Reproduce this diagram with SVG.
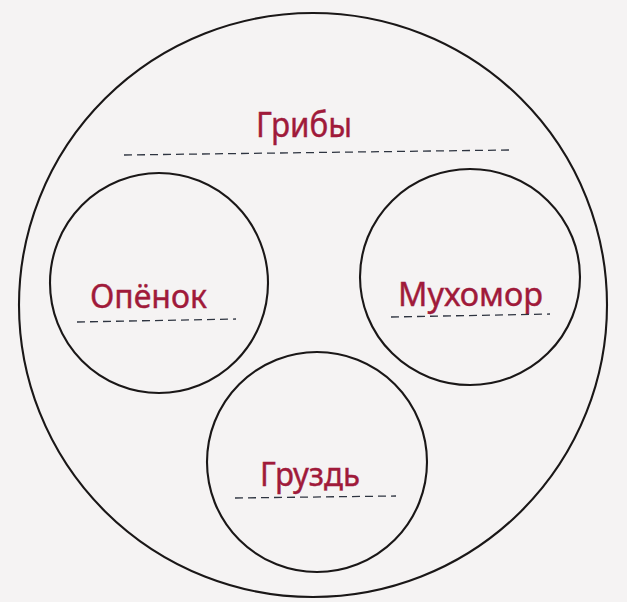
<svg xmlns="http://www.w3.org/2000/svg" width="627" height="602" viewBox="0 0 627 602">
  <style>
    .ring { fill: none; stroke: #1a1717; stroke-width: 2.1; }
    .lbl { font-family: "Noto Sans", "Open Sans", "DejaVu Sans", sans-serif; fill: #a01a3a; stroke: #a01a3a; stroke-width: 0.4; }
    .dash { fill: none; stroke: #2e3440; stroke-width: 1.3; stroke-dasharray: 8 5; }
  </style>
  <rect x="0" y="0" width="627" height="602" fill="#f5f3f3"/>
  <g id="node-griby">
    <ellipse class="ring" cx="313" cy="305" rx="294" ry="292"/>
    <text class="lbl" x="256" y="137" font-size="34" textLength="96" lengthAdjust="spacingAndGlyphs">Грибы</text>
    <line class="dash" x1="124" y1="155" x2="510" y2="150"/>
  </g>
  <g id="node-openok">
    <ellipse class="ring" cx="159" cy="283" rx="109" ry="110"/>
    <text class="lbl" x="90" y="308" font-size="32" textLength="117" lengthAdjust="spacingAndGlyphs">Опёнок</text>
    <line class="dash" x1="77" y1="322" x2="236" y2="319"/>
  </g>
  <g id="node-mukhomor">
    <ellipse class="ring" cx="470" cy="277" rx="110" ry="108"/>
    <text class="lbl" x="398" y="306" font-size="32" textLength="145" lengthAdjust="spacingAndGlyphs">Мухомор</text>
    <line class="dash" x1="391" y1="317" x2="550" y2="314"/>
  </g>
  <g id="node-gruzd">
    <ellipse class="ring" cx="317" cy="462" rx="110" ry="110"/>
    <text class="lbl" x="260" y="486" font-size="32" textLength="100" lengthAdjust="spacingAndGlyphs">Груздь</text>
    <line class="dash" x1="235" y1="498" x2="396" y2="496"/>
  </g>
  <g id="connectors"/>
</svg>
